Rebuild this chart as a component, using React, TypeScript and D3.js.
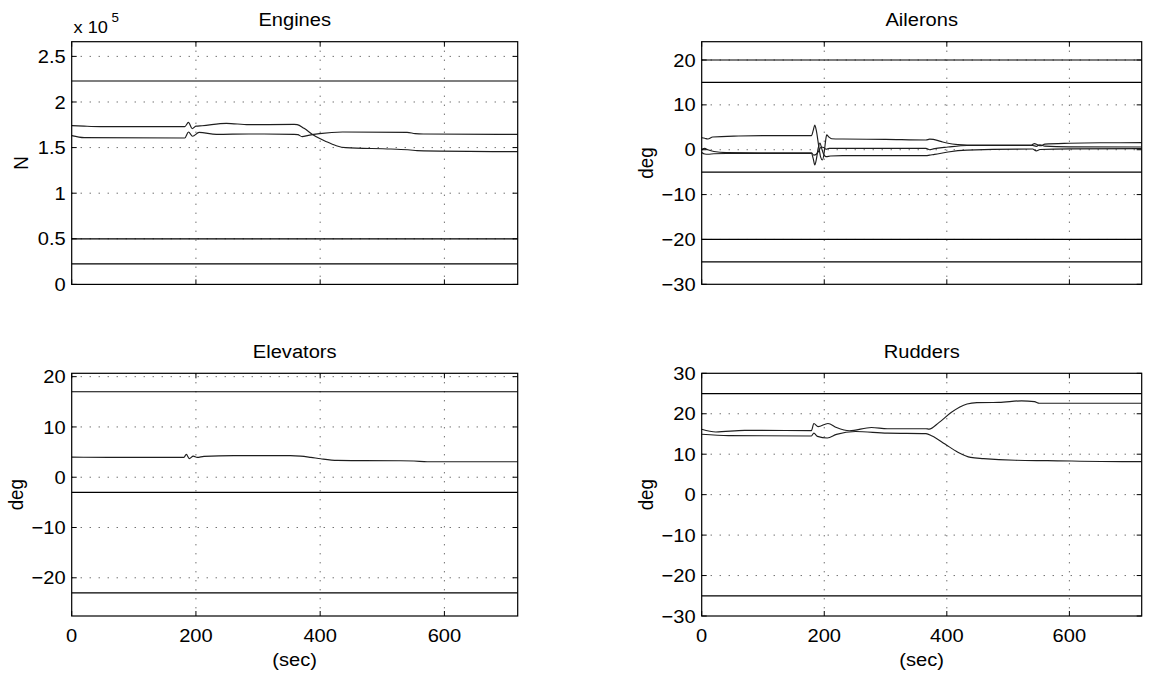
import React from "react";
import * as d3 from "d3";

// ---------- data ----------
const xTicks = [0, 200, 400, 600];
const xMax = 718;

const engineTicks = [0, 0.5, 1, 1.5, 2, 2.5];
const aileronTicks = [-30, -20, -10, 0, 10, 20];
const elevatorTicks = [-20, -10, 0, 10, 20];
const rudderTicks = [-30, -20, -10, 0, 10, 20, 30];

const engineLimits = [2.23, 0.5, 0.225];
const aileronLimits = [20, 15, -5, -20, -25];
const elevatorLimits = [17, -3, -23];
const rudderLimits = [25, -25];

// Engines (x 10^5 N)
const engineA: [number, number][] = [
  [0, 1.741], [20, 1.735], [46, 1.73], [182, 1.73], [188, 1.777], [194, 1.707], [200, 1.735],
  [210, 1.74], [249, 1.766], [285, 1.751], [358, 1.755], [363, 1.752], [374, 1.711], [389, 1.638],
  [410, 1.565], [426, 1.521], [441, 1.499], [514, 1.484], [545, 1.474], [556, 1.466], [691, 1.456], [718, 1.455],
];
const engineB: [number, number][] = [
  [0, 1.631], [20, 1.609], [182, 1.605], [188, 1.671], [194.6, 1.624], [205, 1.667], [233, 1.645],
  [285, 1.649], [358, 1.645], [364, 1.642], [371, 1.62], [381, 1.634], [399, 1.653], [436, 1.671],
  [540, 1.667], [553, 1.653], [566, 1.649], [691, 1.645], [718, 1.645],
];

// Ailerons (deg)
const aileronUpper: [number, number][] = [
  [0, 2.68], [5, 2.55], [10, 2.38], [18, 2.83], [60, 3.05], [100, 3.13], [179, 3.13], [182, 4.3],
  [184.5, 5.5], [187, 4.3], [191, 0.8], [194, -1.6], [197, -2.3], [200, -0.5], [202, 1.8], [204, 3.3],
  [207, 2.9], [212, 2.45], [230, 2.38], [300, 2.3], [366, 2.16], [372, 2.35], [378, 2.3], [390, 1.85],
  [402, 1.43], [418, 1.15], [433, 1.05], [538, 1.05], [543, 1.35], [548, 1.1], [553, 0.9], [560, 1.25],
  [600, 1.45], [650, 1.55], [718, 1.57],
];
const aileronMiddle: [number, number][] = [
  [0, 0.08], [5, 0.3], [10, 0.0], [20, -0.4], [40, -0.65], [100, -0.7], [179, -0.7], [183, -1.2],
  [187, -1.0], [191, -0.3], [195, 0.6], [199, 0.5], [203, 0.1], [208, 0.3], [230, 0.3], [366, 0.3],
  [372, 0.0], [378, 0.2], [402, 0.6], [433, 0.95], [540, 0.95], [546, 0.75], [552, 1.1], [560, 0.8],
  [600, 0.65], [718, 0.6],
];
const aileronLower: [number, number][] = [
  [0, -0.6], [5, -0.96], [10, -1.0], [20, -0.9], [40, -0.85], [100, -0.85], [179, -0.85], [182, -2.0],
  [184.5, -3.4], [187, -2.2], [190, 0.3], [193, 1.5], [196, 0.2], [199, -1.0], [203, -1.55], [210, -1.4],
  [230, -1.33], [366, -1.33], [372, -1.2], [380, -1.05], [402, -0.5], [433, -0.1], [540, 0.15],
  [546, -0.25], [552, 0.05], [600, 0.2], [718, 0.23],
];

// Elevators (deg)
const elevator: [number, number][] = [
  [0, 4.0], [60, 3.95], [180.6, 3.95], [184.5, 4.55], [189.3, 3.7], [195.7, 4.2], [202, 3.95],
  [213, 4.15], [261, 4.3], [352, 4.3], [368.5, 4.2], [385, 3.95], [401, 3.67], [427.6, 3.35],
  [470, 3.3], [529.6, 3.27], [551, 3.22], [572.5, 3.08], [718, 3.08],
];

// Rudders (deg)
const rudderUpper: [number, number][] = [
  [0, 16.16], [23, 15.5], [70, 15.9], [179, 15.83], [183, 17.6], [190, 16.8], [206, 17.6], [220, 16.6],
  [241, 15.8], [277, 16.6], [303, 16.3], [366, 16.3], [371, 16.2], [387, 17.8], [407, 20.3],
  [433, 22.4], [449, 22.75], [485, 22.8], [522, 23.2], [543, 23.0], [551, 22.6], [686, 22.6], [718, 22.6],
];
const rudderLower: [number, number][] = [
  [0, 14.92], [44, 14.6], [179, 14.5], [183, 15.2], [189, 14.4], [205, 14.0], [220, 14.9], [251, 15.6],
  [303, 15.2], [366, 15.1], [376, 14.5], [397, 12.5], [418, 10.5], [439, 9.2], [460, 8.9], [512, 8.5],
  [564, 8.4], [686, 8.17], [718, 8.17],
];

// ---------- layout ----------
const FONT = "Liberation Sans, Arial, Helvetica, sans-serif";
const FS = 18.8;
const SX = 1.07;

type Panel = {
  title: string;
  left: number; right: number; top: number; bottom: number;
  yDomain: [number, number];
  yTicks: number[];
  fmt: (v: number) => string;
  limits: number[];
  series: [number, number][][];
  ylabel: string;
  ylabelX: number;
  showX: boolean;
};

const fmtNum = (v: number) => (v < 0 ? "\u2212" + Math.abs(v) : String(v));

const panels: Panel[] = [
  { title: "Engines", left: 71.7, right: 517.7, top: 41.7, bottom: 284.4, yDomain: [0, 2.661],
    yTicks: engineTicks, fmt: fmtNum, limits: engineLimits, series: [engineA, engineB],
    ylabel: "N", ylabelX: 21.7, showX: false },
  { title: "Ailerons", left: 701.7, right: 1141.7, top: 41.7, bottom: 284.3, yDomain: [-30, 24.08],
    yTicks: aileronTicks, fmt: fmtNum, limits: aileronLimits, series: [aileronUpper, aileronMiddle, aileronLower],
    ylabel: "deg", ylabelX: 646.7, showX: false },
  { title: "Elevators", left: 71.7, right: 517.7, top: 373.3, bottom: 616, yDomain: [-27.6, 20.67],
    yTicks: elevatorTicks, fmt: fmtNum, limits: elevatorLimits, series: [elevator],
    ylabel: "deg", ylabelX: 16.7, showX: true },
  { title: "Rudders", left: 701.7, right: 1141.7, top: 373.3, bottom: 616, yDomain: [-30, 30],
    yTicks: rudderTicks, fmt: fmtNum, limits: rudderLimits, series: [rudderUpper, rudderLower],
    ylabel: "deg", ylabelX: 646.7, showX: true },
];

function Txt(props: { x: number; y: number; anchor?: string; size?: number; rot?: boolean; dy?: string; children: any }) {
  const { x, y, anchor = "start", size = FS, rot = false, dy, children } = props;
  return (
    <text
      transform={`translate(${x},${y}) scale(${SX},1)${rot ? " rotate(-90)" : ""}`}
      textAnchor={anchor as any}
      fontSize={size}
      fontFamily={FONT}
      dy={dy}
      fill="#000"
    >
      {children}
    </text>
  );
}

function PanelView({ p }: { p: Panel }) {
  const xs = d3.scaleLinear().domain([0, xMax]).range([p.left, p.right]);
  const ys = d3.scaleLinear().domain(p.yDomain).range([p.bottom, p.top]);
  const line = d3
    .line<[number, number]>()
    .x((d) => xs(d[0]))
    .y((d) => ys(d[1]))
    .curve(d3.curveMonotoneX);
  const tl = 5;
  const cx = (p.left + p.right) / 2;
  return (
    <g>
      {/* grid */}
      {xTicks.filter((t) => t > 0).map((t) => (
        <line key={"gx" + t} x1={xs(t)} x2={xs(t)} y1={p.top} y2={p.bottom}
          stroke="#333" strokeWidth={1} strokeDasharray="1,8" />
      ))}
      {p.yTicks.filter((t) => ys(t) > p.top + 0.5 && ys(t) < p.bottom - 0.5).map((t) => (
        <line key={"gy" + t} x1={p.left} x2={p.right} y1={ys(t)} y2={ys(t)}
          stroke="#333" strokeWidth={1} strokeDasharray="1,8" />
      ))}
      {/* limits */}
      {p.limits.map((v, i) => (
        <line key={"lim" + i} x1={p.left} x2={p.right} y1={ys(v)} y2={ys(v)} stroke="#000" strokeWidth={1.2} />
      ))}
      {/* series */}
      {p.series.map((s, i) => (
        <path key={"s" + i} d={line(s) || ""} fill="none" stroke="#1e1e1e" strokeWidth={1.15} />
      ))}
      {/* box */}
      <rect x={p.left} y={p.top} width={p.right - p.left} height={p.bottom - p.top}
        fill="none" stroke="#000" strokeWidth={1.2} />
      {/* ticks */}
      {xTicks.map((t) => (
        <g key={"tx" + t}>
          <line x1={xs(t)} x2={xs(t)} y1={p.bottom} y2={p.bottom - tl} stroke="#000" />
          <line x1={xs(t)} x2={xs(t)} y1={p.top} y2={p.top + tl} stroke="#000" />
        </g>
      ))}
      {p.yTicks.map((t) => (
        <g key={"ty" + t}>
          <line x1={p.left} x2={p.left + tl} y1={ys(t)} y2={ys(t)} stroke="#000" />
          <line x1={p.right} x2={p.right - tl} y1={ys(t)} y2={ys(t)} stroke="#000" />
          <Txt x={p.left - 6} y={ys(t)} anchor="end" dy="0.35em">{p.fmt(t)}</Txt>
        </g>
      ))}
      {p.showX &&
        xTicks.map((t) => (
          <Txt key={"xl" + t} x={xs(t)} y={p.bottom + 25.5} anchor="middle">{String(t)}</Txt>
        ))}
      {p.showX && <Txt x={cx} y={666} anchor="middle">(sec)</Txt>}
      <Txt x={cx} y={p.top - 15.7} anchor="middle">{p.title}</Txt>
      <Txt x={p.ylabelX} y={(p.top + p.bottom) / 2} anchor="middle" rot dy="0.3em">{p.ylabel}</Txt>
    </g>
  );
}

export default function App() {
  return (
    <svg
      width={1167}
      height={675}
      style={{ position: "absolute", left: 0, top: 0, background: "#fff" }}
    >
      <rect x={0} y={0} width={1167} height={675} fill="#fff" />
      {panels.map((p) => (
        <PanelView key={p.title} p={p} />
      ))}
      <Txt x={73.5} y={32.7} size={17}>x 10</Txt>
      <Txt x={111.5} y={21.7} size={12.5}>5</Txt>
    </svg>
  );
}
